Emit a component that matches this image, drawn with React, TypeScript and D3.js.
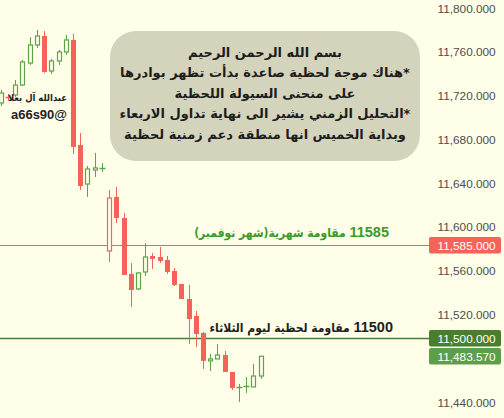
import React from "react";
import * as d3 from "d3";

const candleOpen = [11715.1, 11720.6, 11722.4, 11731.5, 11751.6, 11768.1, 11776.3, 11744.3, 11753.5, 11761.7, 11772.7, 11676.7, 11641.0, 11653.8, 11656.1, 11579.8, 11629.2, 11610.0, 11558.8, 11545.1, 11560.6, 11575.2, 11574.3, 11571.6, 11561.5, 11549.6, 11535.9, 11520.4, 11504.8, 11479.3, 11481.1, 11484.7, 11469.2, 11455.5, 11456.4, 11455.5, 11465.5];
const candleHigh = [11727.0, 11723.3, 11736.1, 11754.4, 11775.4, 11781.8, 11780.9, 11755.3, 11763.5, 11777.2, 11778.2, 11687.7, 11657.5, 11669.4, 11660.2, 11635.6, 11638.3, 11614.5, 11568.8, 11560.6, 11587.1, 11578.0, 11583.5, 11575.2, 11564.3, 11549.6, 11548.7, 11525.0, 11505.8, 11485.6, 11494.8, 11488.4, 11469.2, 11458.2, 11464.6, 11476.5, 11483.57];
const candleLow = [11712.3, 11717.8, 11720.6, 11730.6, 11749.8, 11765.4, 11742.5, 11741.6, 11749.8, 11759.0, 11668.5, 11635.6, 11629.2, 11647.4, 11652.0, 11569.7, 11605.4, 11557.9, 11528.6, 11544.2, 11556.9, 11563.3, 11568.8, 11558.8, 11547.8, 11535.9, 11494.8, 11492.0, 11471.9, 11470.1, 11481.1, 11469.2, 11452.7, 11441.8, 11450.0, 11455.5, 11462.8];
const candleClose = [11724.2, 11720.6, 11731.5, 11752.6, 11768.1, 11776.3, 11743.4, 11753.5, 11761.7, 11772.7, 11674.9, 11639.2, 11654.8, 11655.7, 11656.1, 11628.2, 11610.0, 11557.9, 11544.2, 11559.7, 11574.3, 11572.5, 11570.7, 11560.6, 11548.7, 11535.9, 11517.6, 11503.9, 11479.3, 11481.1, 11484.7, 11469.2, 11454.6, 11455.5, 11456.4, 11465.5, 11483.57];

const yTicks = [11440, 11520, 11560, 11600, 11640, 11680, 11720, 11760, 11800];

const monthlyResistance = 11585;
const dailyResistance = 11500;
const lastPrice = 11483.57;

const noteLines = [
  "بسم الله الرحمن الرحيم",
  "*هناك موجة لحظية صاعدة بدأت تظهر بوادرها",
  "على منحنى السيولة اللحظية",
  "*التحليل الزمني  يشير الى نهاية تداول الاربعاء",
  "وبداية الخميس انها منطقة دعم زمنية لحظية",
];
const monthlyNumber = "11585";
const monthlyText = "مقاومة شهرية(شهر نوفمبر)";
const dailyNumber = "11500";
const dailyText = "مقاومة لحظية ليوم الثلاثاء";
const authorName = "عبدالله آل يعلا";
const authorHandle = "a66s90@";

const W = 504;
const H = 418;
const BG = "#fffee9";
const RED = "#f5625a";
const GREEN = "#5ca447";
const DARK_GREEN = "#4b7d2f";
const AXIS_FONT = "'Liberation Sans', Arial, sans-serif";
const AR_FONT = "'DejaVu Sans', Arial, sans-serif";
const AR_COND = "'DejaVu Sans Condensed', 'DejaVu Sans', Arial, sans-serif";

export default function App() {
  const x = d3.scaleLinear().domain([0, candleOpen.length - 1]).range([0.8, 260.7]);
  const y = d3.scaleLinear().domain([11440, 11800]).range([403.9, 10.1]);
  const fmt = d3.format(",.3f");
  const bodyW = 5;
  const lineEnd = 429;
  const boxX = 429;
  const boxW = 72;

  const candles = candleOpen.map((o, i) => {
    const c = candleClose[i];
    const prev = i > 0 ? candleClose[i - 1] : -Infinity;
    const color = c < prev ? RED : GREEN;
    const hollow = c >= o;
    const cx = Math.round(x(i)) + 0.5;
    const top = y(Math.max(o, c));
    const bot = y(Math.min(o, c));
    const doji = Math.abs(c - o) < 0.3;
    return (
      <g key={i}>
        <line x1={cx} x2={cx} y1={y(candleHigh[i])} y2={y(candleLow[i])} stroke={color} strokeWidth={1} />
        {doji ? (
          <line x1={cx - 3} x2={cx + 3} y1={Math.round(top) + 0.5} y2={Math.round(top) + 0.5} stroke={color} strokeWidth={1.5} />
        ) : hollow ? (
          <rect x={cx - 2} y={top} width={bodyW - 1} height={Math.max(bot - top, 1)} fill={BG} stroke={color} strokeWidth={1.2} />
        ) : (
          <rect x={cx - 2.5} y={top} width={bodyW} height={Math.max(bot - top, 1)} fill={color} />
        )}
      </g>
    );
  });

  const priceBox = (v: number, fill: string, key: string) => (
    <g key={key}>
      <rect x={boxX} y={y(v) - 8.3} width={boxW} height={16.6} rx={2} fill={fill} />
      <text x={boxX + 8.5} y={y(v) + 4.3} fill="#ffffff" fontFamily={AXIS_FONT} fontSize={11.8}>
        {fmt(v)}
      </text>
    </g>
  );

  const rtl = { direction: "rtl" as const, unicodeBidi: "embed" as const };

  return (
    <div style={{ position: "absolute", left: 0, top: 0, width: W, height: H }}>
      <svg width={W} height={H} style={{ display: "block", background: BG }}>
        <rect x={0} y={0} width={W} height={H} fill={BG} />
        {/* note box */}
        <rect x={110} y={31} width={310} height={130} rx={26} fill="#d4d4bc" />
        {noteLines.map((t, i) => (
          <text
            key={i}
            x={265}
            y={57 + i * 20.4}
            textAnchor="middle"
            style={rtl}
            fontFamily={AR_FONT}
            fontWeight="bold"
            fontSize={13}
            fill="#1d1d1d"
          >
            {t}
          </text>
        ))}
        {/* horizontal levels */}
        <line x1={0} x2={lineEnd} y1={Math.round(y(monthlyResistance)) + 0.5} y2={Math.round(y(monthlyResistance)) + 0.5} stroke={RED} strokeWidth={1} />
        <line x1={0} x2={lineEnd} y1={Math.round(y(dailyResistance)) + 0.5} y2={Math.round(y(dailyResistance)) + 0.5} stroke={DARK_GREEN} strokeWidth={1.3} />
        {candles}
        {/* author watermark */}
        <text x={67} y={101} textAnchor="start" style={rtl} fontFamily={AR_COND} fontWeight="bold" fontSize={9.4} fill="#222">
          {authorName}
        </text>
        <text x={67} y={119} textAnchor="end" fontFamily={AXIS_FONT} fontWeight="bold" fontSize={13} fill="#222">
          {authorHandle}
        </text>
        {/* level annotations */}
        <text x={389} y={237} textAnchor="start" style={rtl} fontWeight="bold" fill="#3c9a28">
          <tspan fontFamily={AXIS_FONT} fontSize={14.5}>{monthlyNumber}</tspan>
          <tspan fontFamily={AR_COND} fontSize={12}>{" " + monthlyText}</tspan>
        </text>
        <text x={393} y={332} textAnchor="start" style={rtl} fontWeight="bold" fill="#1e1e1e">
          <tspan fontFamily={AXIS_FONT} fontSize={14.5}>{dailyNumber}</tspan>
          <tspan fontFamily={AR_COND} fontSize={12}>{" " + dailyText}</tspan>
        </text>
        {/* axis labels */}
        {yTicks.map((t) => (
          <text key={t} x={437.5} y={y(t) + 2.6} fontFamily={AXIS_FONT} fontSize={11.8} fill="#4e4e4e">
            {fmt(t)}
          </text>
        ))}
        {priceBox(monthlyResistance, RED, "m")}
        {priceBox(dailyResistance, DARK_GREEN, "d")}
        {priceBox(lastPrice, "#5d9f48", "l")}
      </svg>
    </div>
  );
}
